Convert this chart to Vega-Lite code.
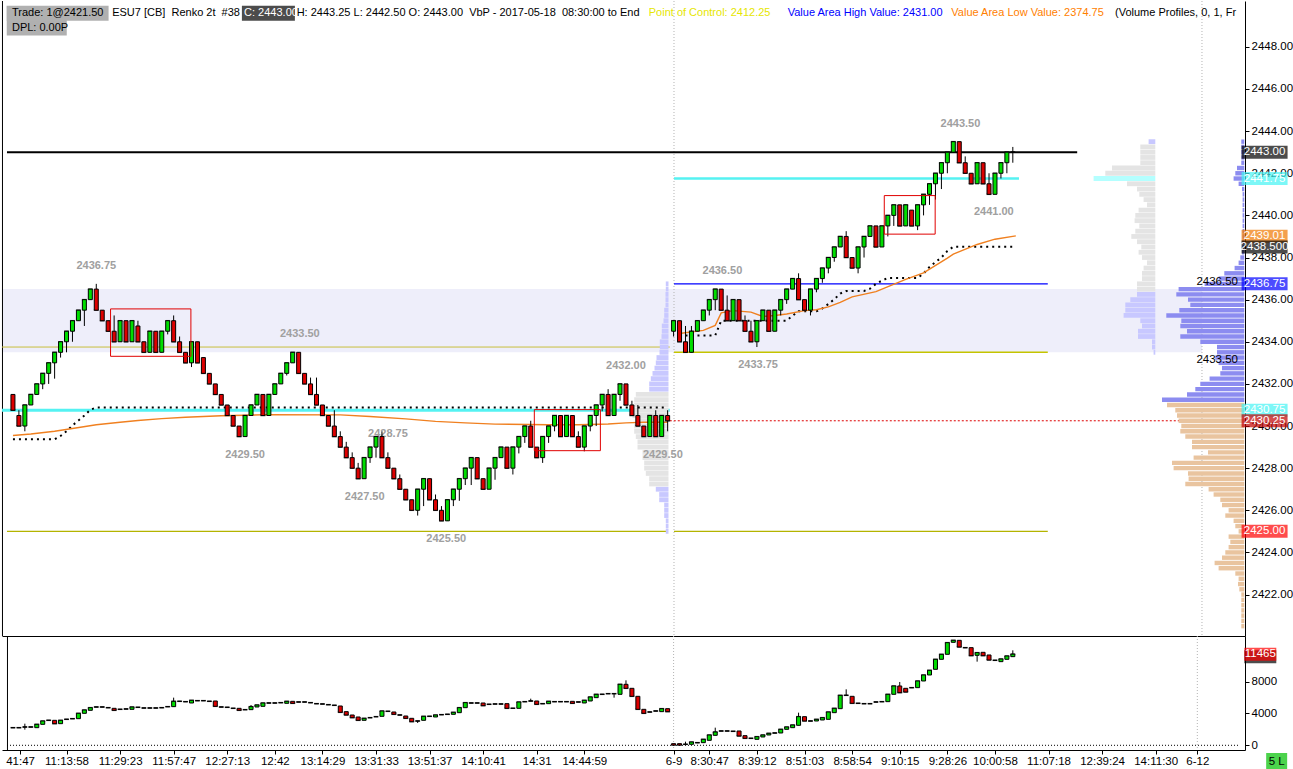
{
"$schema": "https://vega.github.io/schema/vega-lite/v6.json",
"padding": 0,
"spacing": 0,
"bounds": "flush",
"background": "white",
"config": {"view": {"stroke": null}, "font": "Liberation Sans"},
"data": {"values": [{}]},
"datasets": {
"bricks": [
{"k":0,"o":2431.5,"c":2430.75,"h":2431.5,"l":2430.75},{"k":1,"o":2430.5,"c":2430,"h":2430.75,"l":2430},{"k":2,"o":2430,"c":2431,"h":2431,"l":2429.75},{"k":3,"o":2431,"c":2431.5,"h":2431.5,"l":2431},{"k":4,"o":2431.5,"c":2432,"h":2432,"l":2431.5},{"k":5,"o":2432,"c":2432.5,"h":2432.5,"l":2431.75},{"k":6,"o":2432.5,"c":2433,"h":2433,"l":2432},{"k":7,"o":2433,"c":2433.5,"h":2433.5,"l":2432.25},{"k":8,"o":2433.5,"c":2434,"h":2434,"l":2433.25},{"k":9,"o":2434,"c":2434.5,"h":2434.5,"l":2433.5},
{"k":10,"o":2434.5,"c":2435,"h":2435,"l":2434},{"k":11,"o":2435,"c":2435.5,"h":2435.5,"l":2435},{"k":12,"o":2435.5,"c":2436,"h":2436,"l":2434.75},{"k":13,"o":2436,"c":2436.5,"h":2436.5,"l":2436},{"k":14,"o":2436.5,"c":2435.5,"h":2436.75,"l":2435.5},{"k":15,"o":2435.5,"c":2435,"h":2435.5,"l":2435},{"k":16,"o":2435,"c":2434.5,"h":2435,"l":2434.5},{"k":17,"o":2434.5,"c":2434,"h":2435.25,"l":2434},{"k":18,"o":2434,"c":2435,"h":2435,"l":2434},{"k":19,"o":2435,"c":2434,"h":2435,"l":2434},
{"k":20,"o":2434,"c":2435,"h":2435,"l":2434},{"k":21,"o":2434.75,"c":2434,"h":2435,"l":2434},{"k":22,"o":2434,"c":2433.5,"h":2434,"l":2433.5},{"k":23,"o":2433.5,"c":2434.5,"h":2434.5,"l":2433.5},{"k":24,"o":2434.5,"c":2433.5,"h":2434.5,"l":2433.5},{"k":25,"o":2433.5,"c":2434.5,"h":2434.5,"l":2433.5},{"k":26,"o":2434.5,"c":2435,"h":2435,"l":2434.35},{"k":27,"o":2435,"c":2434,"h":2435.25,"l":2434},{"k":28,"o":2434,"c":2433.5,"h":2434.25,"l":2433.5},{"k":29,"o":2433.5,"c":2433,"h":2433.5,"l":2433},
{"k":30,"o":2433,"c":2434,"h":2434,"l":2432.8},{"k":31,"o":2434,"c":2433,"h":2434,"l":2433},{"k":32,"o":2433.25,"c":2432.5,"h":2433.25,"l":2432.5},{"k":33,"o":2432.5,"c":2432,"h":2432.5,"l":2432},{"k":34,"o":2432,"c":2431.5,"h":2432,"l":2431.5},{"k":35,"o":2431.5,"c":2431,"h":2431.5,"l":2431},{"k":36,"o":2431,"c":2430.5,"h":2431,"l":2430.5},{"k":37,"o":2430.5,"c":2430,"h":2430.5,"l":2430},{"k":38,"o":2430,"c":2429.5,"h":2430,"l":2429.5},{"k":39,"o":2429.5,"c":2430.5,"h":2430.5,"l":2429.5},
{"k":40,"o":2430.5,"c":2431,"h":2431,"l":2430.5},{"k":41,"o":2431,"c":2431.5,"h":2431.5,"l":2431},{"k":42,"o":2431.5,"c":2430.5,"h":2431.5,"l":2430.5},{"k":43,"o":2430.5,"c":2431.5,"h":2431.5,"l":2430.5},{"k":44,"o":2431.5,"c":2432,"h":2432,"l":2431.5},{"k":45,"o":2432,"c":2432.5,"h":2432.5,"l":2432},{"k":46,"o":2432.5,"c":2433,"h":2433,"l":2432.4},{"k":47,"o":2433,"c":2433.5,"h":2433.5,"l":2433},{"k":48,"o":2433.5,"c":2432.5,"h":2433.5,"l":2432.5},{"k":49,"o":2432.5,"c":2432,"h":2432.5,"l":2432},
{"k":50,"o":2432,"c":2431.5,"h":2432.3,"l":2431.5},{"k":51,"o":2431.5,"c":2431,"h":2432.3,"l":2431},{"k":52,"o":2431,"c":2430.5,"h":2431,"l":2430.5},{"k":53,"o":2430.5,"c":2430,"h":2430.5,"l":2430},{"k":54,"o":2430,"c":2429.5,"h":2430.75,"l":2429.5},{"k":55,"o":2429.5,"c":2429,"h":2429.75,"l":2429},{"k":56,"o":2429,"c":2428.5,"h":2429.25,"l":2428.5},{"k":57,"o":2428.5,"c":2428,"h":2428.75,"l":2428},{"k":58,"o":2428,"c":2427.5,"h":2428.25,"l":2427.5},{"k":59,"o":2427.5,"c":2428.5,"h":2428.5,"l":2427.5},
{"k":60,"o":2428.5,"c":2429,"h":2429,"l":2428.25},{"k":61,"o":2429,"c":2429.5,"h":2429.5,"l":2428.5},{"k":62,"o":2429.5,"c":2428.5,"h":2429.75,"l":2428.5},{"k":63,"o":2428.5,"c":2428,"h":2428.75,"l":2428},{"k":64,"o":2428,"c":2427.5,"h":2428,"l":2427.5},{"k":65,"o":2427.5,"c":2427,"h":2427.7,"l":2427},{"k":66,"o":2427,"c":2426.5,"h":2427,"l":2426.5},{"k":67,"o":2426.5,"c":2426,"h":2426.5,"l":2426},{"k":68,"o":2426,"c":2427,"h":2427,"l":2425.75},{"k":69,"o":2427,"c":2427.5,"h":2427.5,"l":2426.2},
{"k":70,"o":2427.5,"c":2426.5,"h":2427.5,"l":2426.5},{"k":71,"o":2426.5,"c":2426,"h":2426.75,"l":2426},{"k":72,"o":2426,"c":2425.5,"h":2426.2,"l":2425.5},{"k":73,"o":2425.5,"c":2426.5,"h":2426.5,"l":2425.5},{"k":74,"o":2426.5,"c":2427,"h":2427,"l":2426.2},{"k":75,"o":2427,"c":2427.5,"h":2427.5,"l":2426.45},{"k":76,"o":2427.5,"c":2428,"h":2428,"l":2427.2},{"k":77,"o":2428,"c":2428.5,"h":2428.5,"l":2427.2},{"k":78,"o":2428.5,"c":2427.5,"h":2428.5,"l":2427.5},{"k":79,"o":2427.5,"c":2427,"h":2427.5,"l":2427},
{"k":80,"o":2427,"c":2428,"h":2428,"l":2427},{"k":81,"o":2428,"c":2428.5,"h":2428.5,"l":2427.45},{"k":82,"o":2428.5,"c":2429,"h":2429,"l":2428.5},{"k":83,"o":2429,"c":2428,"h":2429,"l":2428},{"k":84,"o":2428,"c":2429,"h":2429,"l":2427.7},{"k":85,"o":2429,"c":2429.5,"h":2429.5,"l":2428.7},{"k":86,"o":2429.5,"c":2430,"h":2430,"l":2429.2},{"k":87,"o":2430,"c":2429,"h":2430.25,"l":2429},{"k":88,"o":2429,"c":2428.5,"h":2429,"l":2428.5},{"k":89,"o":2428.5,"c":2429.5,"h":2429.5,"l":2428.25},
{"k":90,"o":2429.5,"c":2430,"h":2430,"l":2429.2},{"k":91,"o":2430,"c":2430.5,"h":2430.5,"l":2429.75},{"k":92,"o":2430.5,"c":2429.5,"h":2430.5,"l":2429.5},{"k":93,"o":2429.5,"c":2430.5,"h":2430.5,"l":2429.5},{"k":94,"o":2430.5,"c":2429.5,"h":2430.5,"l":2429.5},{"k":95,"o":2429.5,"c":2429,"h":2429.75,"l":2429},{"k":96,"o":2429,"c":2430,"h":2430,"l":2428.8},{"k":97,"o":2430,"c":2430.5,"h":2430.5,"l":2429.75},{"k":98,"o":2430.5,"c":2431,"h":2431,"l":2430},{"k":99,"o":2431,"c":2431.5,"h":2431.5,"l":2430.7},
{"k":100,"o":2431.5,"c":2430.5,"h":2431.75,"l":2430.5},{"k":101,"o":2430.5,"c":2431.5,"h":2431.5,"l":2430.5},{"k":102,"o":2431.5,"c":2432,"h":2432,"l":2431.2},{"k":103,"o":2432,"c":2431,"h":2432,"l":2431},{"k":104,"o":2431,"c":2430.5,"h":2431.2,"l":2430.5},{"k":105,"o":2430.5,"c":2430,"h":2431,"l":2430},{"k":106,"o":2430,"c":2429.5,"h":2430,"l":2429.5},{"k":107,"o":2429.5,"c":2430.5,"h":2430.5,"l":2429.5},{"k":108,"o":2430.5,"c":2429.5,"h":2430.75,"l":2429.5},{"k":109,"o":2429.5,"c":2430.5,"h":2430.5,"l":2429.5},
{"k":110,"o":2430.5,"c":2430.25,"h":2430.75,"l":2429.75},{"k":111,"o":2434.5,"c":2435,"h":2435,"l":2434.25},{"k":112,"o":2435,"c":2434,"h":2435,"l":2434},{"k":113,"o":2434,"c":2433.5,"h":2434.75,"l":2433.5},{"k":114,"o":2433.5,"c":2434.5,"h":2434.75,"l":2433.5},{"k":115,"o":2434.5,"c":2435,"h":2435,"l":2434.5},{"k":116,"o":2435,"c":2435.5,"h":2435.5,"l":2435},{"k":117,"o":2435.5,"c":2436,"h":2436,"l":2435.25},{"k":118,"o":2436,"c":2436.5,"h":2436.5,"l":2435.5},{"k":119,"o":2436.5,"c":2435.5,"h":2436.5,"l":2435.5},
{"k":120,"o":2435.5,"c":2435,"h":2436.2,"l":2435},{"k":121,"o":2435,"c":2436,"h":2436,"l":2435},{"k":122,"o":2436,"c":2435,"h":2436,"l":2435},{"k":123,"o":2435,"c":2434.5,"h":2435.25,"l":2434.5},{"k":124,"o":2434.5,"c":2434,"h":2435,"l":2434},{"k":125,"o":2434,"c":2435,"h":2435,"l":2433.75},{"k":126,"o":2435,"c":2435.5,"h":2435.5,"l":2435},{"k":127,"o":2435.5,"c":2434.5,"h":2435.5,"l":2434.5},{"k":128,"o":2434.5,"c":2435.5,"h":2435.5,"l":2434.5},{"k":129,"o":2435.5,"c":2436,"h":2436,"l":2435.25},
{"k":130,"o":2436,"c":2436.5,"h":2436.5,"l":2435.8},{"k":131,"o":2436.5,"c":2437,"h":2437,"l":2436.5},{"k":132,"o":2437,"c":2436,"h":2437.25,"l":2436},{"k":133,"o":2436,"c":2435.5,"h":2436,"l":2435.5},{"k":134,"o":2435.5,"c":2436.5,"h":2436.5,"l":2435.25},{"k":135,"o":2436.5,"c":2437,"h":2437,"l":2436.35},{"k":136,"o":2437,"c":2437.5,"h":2437.5,"l":2436.8},{"k":137,"o":2437.5,"c":2438,"h":2438,"l":2437.25},{"k":138,"o":2438,"c":2438.5,"h":2438.5,"l":2437.8},{"k":139,"o":2438.5,"c":2439,"h":2439,"l":2438.5},
{"k":140,"o":2439,"c":2438,"h":2439.25,"l":2438},{"k":141,"o":2438,"c":2437.5,"h":2438,"l":2437.5},{"k":142,"o":2437.5,"c":2438.5,"h":2438.5,"l":2437.25},{"k":143,"o":2438.5,"c":2439,"h":2439,"l":2438},{"k":144,"o":2439,"c":2439.5,"h":2439.5,"l":2439},{"k":145,"o":2439.5,"c":2438.5,"h":2439.5,"l":2438.5},{"k":146,"o":2438.5,"c":2439.5,"h":2439.5,"l":2438.5},{"k":147,"o":2439.5,"c":2440,"h":2440,"l":2439},{"k":148,"o":2440,"c":2440.5,"h":2440.5,"l":2439.5},{"k":149,"o":2440.5,"c":2439.5,"h":2440.5,"l":2439.5},
{"k":150,"o":2439.5,"c":2440.5,"h":2440.5,"l":2439.5},{"k":151,"o":2440.25,"c":2439.5,"h":2440.25,"l":2439.5},{"k":152,"o":2439.5,"c":2440.5,"h":2440.5,"l":2439.3},{"k":153,"o":2440.5,"c":2441,"h":2441,"l":2440},{"k":154,"o":2441,"c":2441.5,"h":2441.5,"l":2440.5},{"k":155,"o":2441.5,"c":2442,"h":2442,"l":2440.75},{"k":156,"o":2442,"c":2442.5,"h":2442.5,"l":2441.25},{"k":157,"o":2442.5,"c":2443,"h":2443,"l":2442},{"k":158,"o":2443,"c":2443.5,"h":2443.5,"l":2443},{"k":159,"o":2443.5,"c":2442.5,"h":2443.5,"l":2442.5},
{"k":160,"o":2442.5,"c":2442,"h":2442.8,"l":2442},{"k":161,"o":2442,"c":2441.5,"h":2442,"l":2441.5},{"k":162,"o":2441.5,"c":2442.5,"h":2442.5,"l":2441.5},{"k":163,"o":2442.5,"c":2441.5,"h":2442.5,"l":2441.5},{"k":164,"o":2441.5,"c":2441,"h":2442,"l":2441},{"k":165,"o":2441,"c":2442,"h":2442,"l":2441},{"k":166,"o":2442,"c":2442.5,"h":2442.5,"l":2441.75},{"k":167,"o":2442.5,"c":2443,"h":2443,"l":2442},{"k":168,"o":2443,"c":2443,"h":2443.25,"l":2442.5}
],
"delta": [
{"k":0,"o":2219,"c":2219},{"k":1,"o":2219,"c":2219},{"k":2,"o":2303,"c":2303,"h":2722,"l":1968},{"k":3,"o":2303,"c":2303},{"k":4,"o":2219,"c":2638},{"k":5,"o":2638,"c":3058},{"k":6,"o":3142,"c":3142},{"k":7,"o":3142,"c":2722},{"k":8,"o":2722,"c":3142},{"k":9,"o":3268,"c":3268},
{"k":10,"o":3351,"c":3351},{"k":11,"o":3351,"c":4022},{"k":12,"o":4022,"c":4442},{"k":13,"o":4400,"c":4735},{"k":14,"o":4819,"c":4819},{"k":15,"o":4819,"c":4819},{"k":16,"o":4735,"c":4735},{"k":17,"o":4651,"c":4400},{"k":18,"o":4526,"c":4526},{"k":19,"o":4568,"c":4568},
{"k":20,"o":4526,"c":4819},{"k":21,"o":4777,"c":4777},{"k":22,"o":4693,"c":4693},{"k":23,"o":4693,"c":4693},{"k":24,"o":4693,"c":4693},{"k":25,"o":4735,"c":4735},{"k":26,"o":4861,"c":4861},{"k":27,"o":4861,"c":5532,"h":5993,"l":4861},{"k":28,"o":5532,"c":5532},{"k":29,"o":5490,"c":5490},
{"k":30,"o":5322,"c":5658},{"k":31,"o":5616,"c":5616},{"k":32,"o":5616,"c":5616},{"k":33,"o":5532,"c":5532},{"k":34,"o":5574,"c":4903},{"k":35,"o":4819,"c":4819},{"k":36,"o":4777,"c":4777},{"k":37,"o":4651,"c":4651},{"k":38,"o":4651,"c":4400},{"k":39,"o":4484,"c":4484},
{"k":40,"o":4484,"c":4861,"h":5071,"l":4484},{"k":41,"o":4819,"c":5071},{"k":42,"o":4903,"c":5322},{"k":43,"o":5322,"c":5322},{"k":44,"o":5322,"c":5322},{"k":45,"o":5364,"c":5364},{"k":46,"o":5280,"c":5532},{"k":47,"o":5532,"c":5280},{"k":48,"o":5448,"c":5448},{"k":49,"o":5448,"c":5448},
{"k":50,"o":5364,"c":5364},{"k":51,"o":5238,"c":5238},{"k":52,"o":5196,"c":5196},{"k":53,"o":5112,"c":5112},{"k":54,"o":5029,"c":5029},{"k":55,"o":4945,"c":4148},{"k":56,"o":4232,"c":3813},{"k":57,"o":3813,"c":3477},{"k":58,"o":3561,"c":3142},{"k":59,"o":3142,"c":3393},
{"k":60,"o":3477,"c":3477},{"k":61,"o":3603,"c":3603},{"k":62,"o":3645,"c":4316},{"k":63,"o":4274,"c":4274},{"k":64,"o":4190,"c":3896},{"k":65,"o":3813,"c":3813},{"k":66,"o":3687,"c":3393},{"k":67,"o":3393,"c":2974},{"k":68,"o":3058,"c":3058,"h":3058,"l":2806},{"k":69,"o":3142,"c":3645},
{"k":70,"o":3645,"c":3645},{"k":71,"o":3561,"c":3813},{"k":72,"o":3855,"c":3855},{"k":73,"o":3896,"c":3896},{"k":74,"o":3896,"c":4148},{"k":75,"o":4106,"c":4735},{"k":76,"o":4735,"c":5364},{"k":77,"o":5322,"c":5322},{"k":78,"o":5322,"c":5322},{"k":79,"o":5322,"c":4987},
{"k":80,"o":5154,"c":5154},{"k":81,"o":5196,"c":5196},{"k":82,"o":5196,"c":5196},{"k":83,"o":5238,"c":4651},{"k":84,"o":4651,"c":4651},{"k":85,"o":4651,"c":5448},{"k":86,"o":5490,"c":5490},{"k":87,"o":5574,"c":5574,"h":5867,"l":5574},{"k":88,"o":5574,"c":5154},{"k":89,"o":5238,"c":5238},
{"k":90,"o":5238,"c":5532},{"k":91,"o":5490,"c":5490},{"k":92,"o":5490,"c":5490},{"k":93,"o":5490,"c":5490},{"k":94,"o":5532,"c":5280},{"k":95,"o":5448,"c":5448},{"k":96,"o":5322,"c":5658},{"k":97,"o":5574,"c":6077},{"k":98,"o":5993,"c":6412},{"k":99,"o":6412,"c":6412},
{"k":100,"o":6496,"c":6496},{"k":101,"o":6496,"c":6496,"h":6496,"l":5993},{"k":102,"o":6412,"c":7670},{"k":103,"o":7670,"c":7167,"h":8173,"l":7167},{"k":104,"o":7167,"c":6161},{"k":105,"o":6161,"c":4526},{"k":106,"o":4526,"c":4022},{"k":107,"o":4190,"c":4190},{"k":108,"o":4316,"c":4316},{"k":109,"o":4232,"c":4609},
{"k":110,"o":4609,"c":4232},{"k":111,"o":207,"c":39},{"k":112,"o":207,"c":39},{"k":113,"o":123,"c":123,"h":458,"l":123},{"k":114,"o":123,"c":416},{"k":115,"o":332,"c":332},{"k":116,"o":332,"c":752},{"k":117,"o":626,"c":1297},{"k":118,"o":1255,"c":1674,"h":2219,"l":1255},{"k":119,"o":1800,"c":1800},
{"k":120,"o":1800,"c":1800},{"k":121,"o":1758,"c":1758},{"k":122,"o":1800,"c":1171},{"k":123,"o":1213,"c":878},{"k":124,"o":878,"c":878},{"k":125,"o":752,"c":1087},{"k":126,"o":1045,"c":1297},{"k":127,"o":1297,"c":1507},{"k":128,"o":1548,"c":1548},{"k":129,"o":1548,"c":2010},
{"k":130,"o":2010,"c":2303},{"k":131,"o":2219,"c":2555},{"k":132,"o":2513,"c":3603,"h":4106,"l":2513},{"k":133,"o":3603,"c":3058},{"k":134,"o":3058,"c":3058},{"k":135,"o":3058,"c":3268},{"k":136,"o":3184,"c":3477},{"k":137,"o":3268,"c":4190},{"k":138,"o":4106,"c":4651},{"k":139,"o":4609,"c":6286},
{"k":140,"o":6286,"c":6286,"h":7041,"l":6286},{"k":141,"o":6161,"c":5280},{"k":142,"o":5280,"c":5280},{"k":143,"o":5238,"c":5238},{"k":144,"o":5238,"c":5238},{"k":145,"o":5448,"c":5448},{"k":146,"o":5490,"c":5490},{"k":147,"o":5490,"c":6412},{"k":148,"o":6412,"c":7461},{"k":149,"o":7461,"c":6622,"h":7964,"l":6622},
{"k":150,"o":7167,"c":6706},{"k":151,"o":7251,"c":7251},{"k":152,"o":7251,"c":8089},{"k":153,"o":8089,"c":8844},{"k":154,"o":8844,"c":9431},{"k":155,"o":9557,"c":10815},{"k":156,"o":10815,"c":11444},{"k":157,"o":11444,"c":12911},{"k":158,"o":12953,"c":13205},{"k":159,"o":13205,"c":12366},
{"k":160,"o":12282,"c":12282},{"k":161,"o":12282,"c":11276},{"k":162,"o":11318,"c":11653,"h":11653,"l":10521},{"k":163,"o":11695,"c":11276},{"k":164,"o":11360,"c":10731},{"k":165,"o":10689,"c":10689},{"k":166,"o":10521,"c":10857},{"k":167,"o":10815,"c":11234},{"k":168,"o":11150,"c":11465,"h":11947,"l":11150}
],
"stp": [
{"s":1,"k":0,"p":2429.37},{"s":1,"k":7,"p":2429.37},{"s":1,"k":8,"p":2429.53},{"s":1,"k":9,"p":2429.75},{"s":1,"k":10,"p":2430.03},{"s":1,"k":11,"p":2430.26},{"s":1,"k":12,"p":2430.5},{"s":1,"k":13,"p":2430.77},{"s":1,"k":14,"p":2430.88},{"s":1,"k":110,"p":2430.88},
{"s":2,"k":113,"p":2434.3},{"s":2,"k":118,"p":2434.3},{"s":2,"k":119,"p":2435},{"s":2,"k":130,"p":2435},{"s":2,"k":131,"p":2435.24},{"s":2,"k":132,"p":2435.45},{"s":2,"k":135,"p":2435.45},{"s":2,"k":136,"p":2435.58},{"s":2,"k":137,"p":2435.79},{"s":2,"k":138,"p":2436.02},{"s":2,"k":139,"p":2436.29},{"s":2,"k":140,"p":2436.41},{"s":2,"k":143,"p":2436.41},{"s":2,"k":144,"p":2436.52},{"s":2,"k":145,"p":2436.75},{"s":2,"k":146,"p":2436.9},{"s":2,"k":147,"p":2437.03},{"s":2,"k":152,"p":2437.03},{"s":2,"k":153,"p":2437.24},{"s":2,"k":154,"p":2437.55},{"s":2,"k":155,"p":2437.78},{"s":2,"k":156,"p":2438},{"s":2,"k":157,"p":2438.31},{"s":2,"k":158,"p":2438.51},{"s":2,"k":168,"p":2438.51}
],
"vw": [
{"s":1,"k":0,"p":2429.55},{"s":1,"k":3,"p":2429.62},{"s":1,"k":7,"p":2429.75},{"s":1,"k":10,"p":2429.88},{"s":1,"k":14,"p":2430.06},{"s":1,"k":18,"p":2430.18},{"s":1,"k":21,"p":2430.26},{"s":1,"k":25,"p":2430.35},{"s":1,"k":29,"p":2430.42},{"s":1,"k":35,"p":2430.49},{"s":1,"k":43,"p":2430.54},{"s":1,"k":55,"p":2430.53},{"s":1,"k":60,"p":2430.45},{"s":1,"k":66,"p":2430.34},{"s":1,"k":71,"p":2430.22},{"s":1,"k":76,"p":2430.15},{"s":1,"k":81,"p":2430.09},{"s":1,"k":90,"p":2430.06},{"s":1,"k":95,"p":2430.06},{"s":1,"k":100,"p":2430.1},{"s":1,"k":103,"p":2430.15},{"s":1,"k":106,"p":2430.18},{"s":1,"k":110,"p":2430.18},
{"s":2,"k":112,"p":2434.39},{"s":2,"k":116,"p":2434.54},{"s":2,"k":118,"p":2434.78},{"s":2,"k":119,"p":2435.37},{"s":2,"k":121,"p":2435.48},{"s":2,"k":124,"p":2435.41},{"s":2,"k":126,"p":2435.2},{"s":2,"k":128,"p":2435.25},{"s":2,"k":130,"p":2435.32},{"s":2,"k":133,"p":2435.48},{"s":2,"k":135,"p":2435.52},{"s":2,"k":137,"p":2435.66},{"s":2,"k":139,"p":2435.87},{"s":2,"k":141,"p":2436.13},{"s":2,"k":145,"p":2436.38},{"s":2,"k":150,"p":2436.96},{"s":2,"k":153,"p":2437.27},{"s":2,"k":157,"p":2437.97},{"s":2,"k":158,"p":2438.16},{"s":2,"k":162,"p":2438.62},{"s":2,"k":165,"p":2438.87},{"s":2,"k":168.5,"p":2439.03}
],
"pL": [
{"p":2436.75,"v":2.7,"g":"L"},{"p":2436.5,"v":2.7,"g":"L"},{"p":2436.25,"v":3,"g":"L"},{"p":2436,"v":3,"g":"L"},{"p":2435.75,"v":3,"g":"L"},{"p":2435.5,"v":4.3,"g":"L"},{"p":2435.25,"v":4.3,"g":"L"},{"p":2435,"v":5,"g":"L"},{"p":2434.75,"v":6.7,"g":"L"},{"p":2434.5,"v":6.7,"g":"L"},{"p":2434.25,"v":7,"g":"L"},{"p":2434,"v":8.7,"g":"L"},{"p":2433.75,"v":8.7,"g":"L"},{"p":2433.5,"v":9,"g":"L"},{"p":2433.25,"v":12,"g":"L"},{"p":2433,"v":12.7,"g":"L"},{"p":2432.75,"v":14,"g":"L"},{"p":2432.5,"v":16,"g":"L"},{"p":2432.25,"v":17.7,"g":"L"},{"p":2432,"v":19.3,"g":"L"},{"p":2431.75,"v":19.3,"g":"L"},
{"p":2431.5,"v":32.7,"g":"G"},{"p":2431.25,"v":34.3,"g":"G"},{"p":2431,"v":34.3,"g":"G"},{"p":2430.75,"v":36,"g":"G"},{"p":2430.5,"v":36,"g":"G"},{"p":2430.25,"v":32.7,"g":"G"},{"p":2430,"v":34.3,"g":"G"},{"p":2429.75,"v":34.3,"g":"G"},{"p":2429.5,"v":32.7,"g":"G"},{"p":2429.25,"v":31,"g":"G"},{"p":2429,"v":31,"g":"G"},{"p":2428.75,"v":26,"g":"G"},{"p":2428.5,"v":26,"g":"G"},{"p":2428.25,"v":24.3,"g":"G"},{"p":2428,"v":24.3,"g":"G"},{"p":2427.75,"v":22.7,"g":"G"},{"p":2427.5,"v":19.3,"g":"G"},{"p":2427.25,"v":19.3,"g":"G"},
{"p":2427,"v":12.7,"g":"L"},{"p":2426.75,"v":9.3,"g":"L"},{"p":2426.5,"v":9.3,"g":"L"},{"p":2426.25,"v":4.3,"g":"L"},{"p":2426,"v":4.3,"g":"L"},{"p":2425.75,"v":4.3,"g":"L"},{"p":2425.5,"v":2.7,"g":"L"},{"p":2425.25,"v":2.7,"g":"L"},{"p":2425,"v":2.7,"g":"L"}
],
"pM": [
{"p":2443.5,"v":6.7,"g":"L"},{"p":2443.25,"v":15,"g":"G"},{"p":2443,"v":15,"g":"G"},{"p":2442.75,"v":15,"g":"G"},{"p":2442.5,"v":15,"g":"G"},{"p":2442.25,"v":43.3,"g":"G"},{"p":2442,"v":50,"g":"G"},{"p":2441.75,"v":61.7,"g":"C"},{"p":2441.5,"v":28.3,"g":"G"},{"p":2441.25,"v":18.3,"g":"G"},{"p":2441,"v":16,"g":"G"},{"p":2440.75,"v":11.7,"g":"G"},{"p":2440.5,"v":8.3,"g":"G"},{"p":2440.25,"v":16.7,"g":"G"},{"p":2440,"v":20,"g":"G"},{"p":2439.75,"v":20.7,"g":"G"},{"p":2439.5,"v":16,"g":"G"},{"p":2439.25,"v":20,"g":"G"},{"p":2439,"v":24,"g":"G"},{"p":2438.75,"v":18.3,"g":"G"},{"p":2438.5,"v":14,"g":"G"},{"p":2438.25,"v":16.7,"g":"G"},{"p":2438,"v":13.3,"g":"G"},{"p":2437.75,"v":8.3,"g":"G"},{"p":2437.5,"v":11.7,"g":"G"},{"p":2437.25,"v":13.3,"g":"G"},{"p":2437,"v":13.3,"g":"G"},{"p":2436.75,"v":18.3,"g":"G"},{"p":2436.5,"v":18.3,"g":"G"},
{"p":2436.25,"v":18.3,"g":"L"},{"p":2436,"v":25,"g":"L"},{"p":2435.75,"v":30,"g":"L"},{"p":2435.5,"v":30,"g":"L"},{"p":2435.25,"v":31.7,"g":"L"},{"p":2435,"v":15,"g":"L"},{"p":2434.75,"v":13.3,"g":"L"},{"p":2434.5,"v":17.3,"g":"L"},{"p":2434.25,"v":17.3,"g":"L"},{"p":2434,"v":3.3,"g":"L"},{"p":2433.75,"v":3.3,"g":"L"},{"p":2433.5,"v":1.7,"g":"L"}
],
"pR": [
{"p":2443.5,"v":3,"g":"B"},{"p":2443.25,"v":3,"g":"B"},{"p":2443,"v":3,"g":"B"},{"p":2442.75,"v":3,"g":"B"},{"p":2442.5,"v":3,"g":"B"},{"p":2442.25,"v":7.3,"g":"B"},{"p":2442,"v":9,"g":"B"},{"p":2441.75,"v":10.7,"g":"B"},{"p":2441.5,"v":5.7,"g":"B"},{"p":2441.25,"v":2.3,"g":"B"},{"p":2441,"v":1.7,"g":"B"},{"p":2440.75,"v":1.7,"g":"B"},{"p":2440.5,"v":1.7,"g":"B"},{"p":2440.25,"v":1.7,"g":"B"},{"p":2440,"v":1.7,"g":"B"},{"p":2439.75,"v":1.7,"g":"B"},{"p":2439.5,"v":1.7,"g":"B"},{"p":2439.25,"v":1.7,"g":"B"},{"p":2439,"v":1.7,"g":"B"},{"p":2438.75,"v":1.7,"g":"B"},{"p":2438.5,"v":1.7,"g":"B"},{"p":2438.25,"v":2.3,"g":"B"},{"p":2438,"v":4,"g":"B"},{"p":2437.75,"v":5.7,"g":"B"},{"p":2437.5,"v":9.7,"g":"B"},{"p":2437.25,"v":20,"g":"B"},{"p":2437,"v":25.7,"g":"B"},{"p":2436.75,"v":39.7,"g":"B"},{"p":2436.5,"v":65.7,"g":"B"},{"p":2436.25,"v":68,"g":"B"},{"p":2436,"v":56.3,"g":"B"},{"p":2435.75,"v":54,"g":"B"},{"p":2435.5,"v":65,"g":"B"},{"p":2435.25,"v":78,"g":"B"},{"p":2435,"v":63,"g":"B"},{"p":2434.75,"v":64,"g":"B"},{"p":2434.5,"v":57.3,"g":"B"},{"p":2434.25,"v":64,"g":"B"},{"p":2434,"v":44,"g":"B"},{"p":2433.75,"v":27.3,"g":"B"},{"p":2433.5,"v":27.3,"g":"B"},{"p":2433.25,"v":29,"g":"B"},{"p":2433,"v":25.7,"g":"B"},{"p":2432.75,"v":22.3,"g":"B"},{"p":2432.5,"v":24,"g":"B"},{"p":2432.25,"v":34.7,"g":"B"},{"p":2432,"v":44,"g":"B"},{"p":2431.75,"v":49,"g":"B"},{"p":2431.5,"v":57.3,"g":"B"},{"p":2431.25,"v":82.3,"g":"B"},
{"p":2431,"v":77.3,"g":"T"},{"p":2430.75,"v":69,"g":"T"},{"p":2430.5,"v":67.3,"g":"T"},{"p":2430.25,"v":65.7,"g":"T"},{"p":2430,"v":63,"g":"T"},{"p":2429.75,"v":64,"g":"T"},{"p":2429.5,"v":59,"g":"T"},{"p":2429.25,"v":52.3,"g":"T"},{"p":2429,"v":52.3,"g":"T"},{"p":2428.75,"v":36.3,"g":"T"},{"p":2428.5,"v":50.7,"g":"T"},{"p":2428.25,"v":72.3,"g":"T"},{"p":2428,"v":70.7,"g":"T"},{"p":2427.75,"v":56.3,"g":"T"},{"p":2427.5,"v":55.7,"g":"T"},{"p":2427.25,"v":59,"g":"T"},{"p":2427,"v":35.7,"g":"T"},{"p":2426.75,"v":30.7,"g":"T"},{"p":2426.5,"v":24,"g":"T"},{"p":2426.25,"v":22.3,"g":"T"},{"p":2426,"v":15.7,"g":"T"},{"p":2425.75,"v":19,"g":"T"},{"p":2425.5,"v":10.7,"g":"T"},{"p":2425.25,"v":9,"g":"T"},{"p":2425,"v":5.7,"g":"T"},{"p":2424.75,"v":15.7,"g":"T"},{"p":2424.5,"v":14,"g":"T"},{"p":2424.25,"v":15.7,"g":"T"},{"p":2424,"v":19,"g":"T"},{"p":2423.75,"v":22.3,"g":"T"},{"p":2423.5,"v":29.7,"g":"T"},{"p":2423.25,"v":25.7,"g":"T"},{"p":2423,"v":9,"g":"T"},{"p":2422.75,"v":5.7,"g":"T"},{"p":2422.5,"v":6.3,"g":"T"},{"p":2422.25,"v":5,"g":"T"},{"p":2422,"v":3,"g":"T"},{"p":2421.75,"v":3,"g":"T"},{"p":2421.5,"v":3,"g":"T"},{"p":2421.25,"v":3,"g":"T"},{"p":2421,"v":3,"g":"T"},{"p":2420.75,"v":3,"g":"T"},{"p":2420.5,"v":3,"g":"T"}
],
"boxes": [
{"k1":16.4,"k2":29.9,"p1":2435.56,"p2":2433.31},{"k1":87.6,"k2":98.7,"p1":2430.78,"p2":2428.83},{"k1":146.4,"k2":154.95,"p1":2440.94,"p2":2439.11}
],
"hiLab": [
{"k":14,"p":2436.75},{"k":48.2,"p":2433.5},{"k":63,"p":2428.75},{"k":103,"p":2432},{"k":119.2,"p":2436.5},{"k":159.2,"p":2443.5}
],
"loLab": [
{"k":39,"p":2429.5},{"k":59.1,"p":2427.5},{"k":72.8,"p":2425.5},{"k":109.2,"p":2429.5},{"k":125.2,"p":2433.75},{"k":164.8,"p":2441}
],
"tags": [
{"p":2443,"t":"2443.00","g":"k"},{"p":2441.75,"t":"2441.75","g":"c"},{"p":2439.01,"t":"2439.01","g":"o"},{"p":2438.5,"t":"2438.500","g":"k"},{"p":2436.75,"t":"2436.75","g":"b"},{"p":2430.75,"t":"2430.75","g":"c"},{"p":2430.25,"t":"2430.25","g":"r"},{"p":2425,"t":"2425.00","g":"R"}
]
},
"vconcat": [
{
"width": 1243,
"height": 635,
"resolve": {"scale": {"x": "independent"}},
"layer": [
{
"layer": [
{"mark": {"type": "rect", "color": "#eeeefa"},
 "encoding": {
  "x": {"datum": -1, "type": "quantitative", "scale": {"domain": [-1, 206.17], "nice": false, "zero": false}, "axis": {"orient": "bottom", "labels": false, "ticks": false, "title": null, "grid": false, "domainColor": "#000000", "zindex": 0}},
  "x2": {"datum": 199},
  "y": {"datum": 2433.5, "type": "quantitative", "scale": {"domain": [2420.27, 2449.94], "nice": false, "zero": false},
        "axis": {"orient": "right", "values": [2422,2424,2426,2428,2430,2432,2434,2436,2438,2440,2442,2444,2446,2448], "format": ".2f", "title": null, "grid": false, "domainColor": "#000000", "tickColor": "#000000", "tickSize": 4, "labelColor": "#000000", "labelFontSize": 11.5, "labelPadding": 2, "labelFont": "Liberation Sans", "zindex": 0}},
  "y2": {"datum": 2436.5}}},
{"mark": {"type": "rule", "color": "#000000", "strokeWidth": 1},
 "encoding": {"x": {"datum": -0.92, "type": "quantitative"}}},
{"mark": {"type": "rule", "color": "#b4b4b4", "strokeDash": [1, 2]},
 "encoding": {"x": {"datum": 111, "type": "quantitative"}}},
{"mark": {"type": "rule", "color": "#b4b4b4", "strokeDash": [1, 2]},
 "encoding": {"x": {"datum": 199, "type": "quantitative"}}},
{"mark": {"type": "rule", "color": "#c8be3c", "strokeWidth": 1},
 "encoding": {"x": {"datum": -1, "type": "quantitative"}, "x2": {"datum": 110.3}, "y": {"datum": 2433.75, "type": "quantitative"}}},
{"mark": {"type": "rule", "color": "#b4b400", "strokeWidth": 1.2},
 "encoding": {"x": {"datum": -0.17, "type": "quantitative"}, "x2": {"datum": 110}, "y": {"datum": 2425, "type": "quantitative"}}},
{"mark": {"type": "rule", "color": "#b4b400", "strokeWidth": 1.2},
 "encoding": {"x": {"datum": 111, "type": "quantitative"}, "x2": {"datum": 173.3}, "y": {"datum": 2425, "type": "quantitative"}}},
{"mark": {"type": "rule", "color": "#c4c400", "strokeWidth": 1.5},
 "encoding": {"x": {"datum": 111, "type": "quantitative"}, "x2": {"datum": 173.3}, "y": {"datum": 2433.5, "type": "quantitative"}}},
{"mark": {"type": "rule", "color": "#0000ff", "strokeWidth": 1.2},
 "encoding": {"x": {"datum": 111, "type": "quantitative"}, "x2": {"datum": 173.3}, "y": {"datum": 2436.75, "type": "quantitative"}}},
{"mark": {"type": "rule", "color": "#dd0000", "strokeWidth": 1, "strokeDash": [2, 2]},
 "encoding": {"x": {"datum": 110.3, "type": "quantitative"}, "x2": {"datum": 206.17}, "y": {"datum": 2430.25, "type": "quantitative"}}},
{"mark": {"type": "rule", "color": "#55f2f2", "strokeWidth": 3},
 "encoding": {"x": {"datum": -1, "type": "quantitative"}, "x2": {"datum": 110.3}, "y": {"datum": 2430.75, "type": "quantitative"}}},
{"mark": {"type": "rule", "color": "#55f2f2", "strokeWidth": 2.5},
 "encoding": {"x": {"datum": 111, "type": "quantitative"}, "x2": {"datum": 168.5}, "y": {"datum": 2441.75, "type": "quantitative"}}},
{"mark": {"type": "rule", "color": "#000000", "strokeWidth": 2},
 "encoding": {"x": {"datum": -0.17, "type": "quantitative"}, "x2": {"datum": 178.2}, "y": {"datum": 2443, "type": "quantitative"}}}
]
},
{"data": {"name": "pL"}, "mark": {"type": "bar", "size": 4.8},
 "encoding": {
  "y": {"field": "p", "type": "quantitative"},
  "x": {"field": "v", "type": "quantitative", "scale": {"domain": [0, 100], "range": [666.5, 566.5], "nice": false, "zero": false}, "axis": null},
  "x2": {"datum": 0},
  "color": {"field": "g", "type": "nominal", "legend": null, "scale": {"domain": ["L","G","C","B","T","k","c","o","b","r","R"], "range": ["#c8c8ff","#e4e4e4","#b4ffff","#8c8cf0","#e9c49f","#000000","#44f4f4","#f07800","#0000ff","#c00000","#ff0000"]}}}},
{"data": {"name": "pM"}, "mark": {"type": "bar", "size": 4.8},
 "encoding": {
  "y": {"field": "p", "type": "quantitative"},
  "x": {"field": "v", "type": "quantitative", "scale": {"domain": [0, 100], "range": [1153.3, 1053.3], "nice": false, "zero": false}, "axis": null},
  "x2": {"datum": 0},
  "color": {"field": "g", "type": "nominal", "legend": null, "scale": {"domain": ["L","G","C","B","T","k","c","o","b","r","R"], "range": ["#c8c8ff","#e4e4e4","#b4ffff","#8c8cf0","#e9c49f","#000000","#44f4f4","#f07800","#0000ff","#c00000","#ff0000"]}}}},
{"data": {"name": "pR"}, "mark": {"type": "bar", "size": 4.4},
 "encoding": {
  "y": {"field": "p", "type": "quantitative"},
  "x": {"field": "v", "type": "quantitative", "scale": {"domain": [0, 100], "range": [1242.3, 1142.3], "nice": false, "zero": false}, "axis": null},
  "x2": {"datum": 0},
  "color": {"field": "g", "type": "nominal", "legend": null, "scale": {"domain": ["L","G","C","B","T","k","c","o","b","r","R"], "range": ["#c8c8ff","#e4e4e4","#b4ffff","#8c8cf0","#e9c49f","#000000","#44f4f4","#f07800","#0000ff","#c00000","#ff0000"]}}}},
{
"layer": [
{"data": {"name": "stp"}, "mark": {"type": "line", "color": "#000000", "strokeWidth": 2, "strokeDash": [2, 4]},
 "encoding": {
  "x": {"field": "k", "type": "quantitative", "scale": {"domain": [-1, 206.17], "nice": false, "zero": false}, "axis": null},
  "y": {"field": "p", "type": "quantitative"},
  "detail": {"field": "s"}}},
{"data": {"name": "vw"}, "mark": {"type": "line", "color": "#f08020", "strokeWidth": 1.4},
 "encoding": {
  "x": {"field": "k", "type": "quantitative", "axis": null},
  "y": {"field": "p", "type": "quantitative"},
  "detail": {"field": "s"}}},
{"data": {"name": "hiLab"}, "mark": {"type": "text", "color": "#a0a0a0", "fontWeight": "bold", "fontSize": 11, "dy": -18, "baseline": "middle"},
 "encoding": {
  "x": {"field": "k", "type": "quantitative", "axis": null},
  "y": {"field": "p", "type": "quantitative"},
  "text": {"field": "p", "type": "quantitative", "format": ".2f"}}},
{"data": {"name": "loLab"}, "mark": {"type": "text", "color": "#a0a0a0", "fontWeight": "bold", "fontSize": 11, "dy": 18, "baseline": "middle"},
 "encoding": {
  "x": {"field": "k", "type": "quantitative", "axis": null},
  "y": {"field": "p", "type": "quantitative"},
  "text": {"field": "p", "type": "quantitative", "format": ".2f"}}},
{"data": {"name": "bricks"}, "mark": {"type": "rule", "color": "#000000", "strokeWidth": 1},
 "encoding": {
  "x": {"field": "k", "type": "quantitative", "axis": null},
  "y": {"field": "l", "type": "quantitative"},
  "y2": {"field": "h"}}},
{"data": {"name": "bricks"}, "mark": {"type": "tick", "orient": "horizontal", "size": 5, "thickness": 1.5, "color": "#000000"},
 "encoding": {
  "x": {"field": "k", "type": "quantitative", "axis": null},
  "y": {"field": "c", "type": "quantitative"}}},
{"data": {"name": "bricks"}, "mark": {"type": "bar", "size": 4, "stroke": "#000000", "strokeWidth": 1},
 "encoding": {
  "x": {"field": "k", "type": "quantitative", "axis": null},
  "y": {"field": "o", "type": "quantitative"},
  "y2": {"field": "c"},
  "fill": {"condition": {"test": "datum.c > datum.o", "value": "#00dd00"}, "value": "#dd0000"}}},
{"data": {"name": "boxes"}, "mark": {"type": "rect", "filled": false, "color": "#e00000", "strokeWidth": 1},
 "encoding": {
  "x": {"field": "k1", "type": "quantitative", "axis": null},
  "x2": {"field": "k2"},
  "y": {"field": "p1", "type": "quantitative"},
  "y2": {"field": "p2"}}},
{"mark": {"type": "text", "color": "#000000", "fontSize": 11.5, "align": "right", "baseline": "middle", "dy": -7},
 "encoding": {"x": {"datum": 205.83, "type": "quantitative", "axis": null}, "y": {"datum": 2436.5, "type": "quantitative"}, "text": {"value": "2436.50"}}},
{"mark": {"type": "text", "color": "#000000", "fontSize": 11.5, "align": "right", "baseline": "middle", "dy": 8},
 "encoding": {"x": {"datum": 205.83, "type": "quantitative", "axis": null}, "y": {"datum": 2433.5, "type": "quantitative"}, "text": {"value": "2433.50"}}},
{"mark": {"type": "tick", "orient": "horizontal", "size": 102, "thickness": 15, "color": "#8f8f8f"},
 "encoding": {"x": {"datum": 7.5, "type": "quantitative", "axis": null}, "y": {"datum": 2449.59, "type": "quantitative"}}},
{"mark": {"type": "tick", "orient": "horizontal", "size": 60, "thickness": 15, "color": "#8f8f8f"},
 "encoding": {"x": {"datum": 4, "type": "quantitative", "axis": null}, "y": {"datum": 2448.89, "type": "quantitative"}}},
{"mark": {"type": "tick", "orient": "horizontal", "size": 53, "thickness": 15, "color": "#000000"},
 "encoding": {"x": {"datum": 42.92, "type": "quantitative", "axis": null}, "y": {"datum": 2449.59, "type": "quantitative"}}},
{"mark": {"type": "text", "color": "#000000", "fontSize": 11, "align": "left", "baseline": "middle"},
 "encoding": {"x": {"datum": -0.17, "type": "quantitative", "axis": null}, "y": {"datum": 2449.59, "type": "quantitative"}, "text": {"value": "Trade: 1@2421.50"}}},
{"mark": {"type": "text", "color": "#000000", "fontSize": 11, "align": "left", "baseline": "middle"},
 "encoding": {"x": {"datum": -0.17, "type": "quantitative", "axis": null}, "y": {"datum": 2448.89, "type": "quantitative"}, "text": {"value": "DPL: 0.00P"}}},
{"mark": {"type": "text", "color": "#000000", "fontSize": 11, "align": "left", "baseline": "middle"},
 "encoding": {"x": {"datum": 16.67, "type": "quantitative", "axis": null}, "y": {"datum": 2449.59, "type": "quantitative"}, "text": {"value": "ESU7 [CB]\u00a0\u00a0Renko 2t\u00a0\u00a0#38"}}},
{"mark": {"type": "text", "color": "#ffffff", "fontSize": 11, "align": "left", "baseline": "middle"},
 "encoding": {"x": {"datum": 38.83, "type": "quantitative", "axis": null}, "y": {"datum": 2449.59, "type": "quantitative"}, "text": {"value": "C: 2443.00"}}},
{"mark": {"type": "text", "color": "#000000", "fontSize": 11, "align": "left", "baseline": "middle"},
 "encoding": {"x": {"datum": 47.67, "type": "quantitative", "axis": null}, "y": {"datum": 2449.59, "type": "quantitative"}, "text": {"value": "H: 2443.25 L: 2442.50 O: 2443.00\u00a0\u00a0VbP - 2017-05-18\u00a0\u00a008:30:00 to End"}}},
{"mark": {"type": "text", "color": "#e6e600", "fontSize": 11, "align": "left", "baseline": "middle"},
 "encoding": {"x": {"datum": 106.83, "type": "quantitative", "axis": null}, "y": {"datum": 2449.59, "type": "quantitative"}, "text": {"value": "Point of Control: 2412.25"}}},
{"mark": {"type": "text", "color": "#0000ff", "fontSize": 11, "align": "left", "baseline": "middle"},
 "encoding": {"x": {"datum": 130.17, "type": "quantitative", "axis": null}, "y": {"datum": 2449.59, "type": "quantitative"}, "text": {"value": "Value Area High Value: 2431.00"}}},
{"mark": {"type": "text", "color": "#ff8000", "fontSize": 11, "align": "left", "baseline": "middle"},
 "encoding": {"x": {"datum": 157.67, "type": "quantitative", "axis": null}, "y": {"datum": 2449.59, "type": "quantitative"}, "text": {"value": "Value Area Low Value: 2374.75"}}},
{"mark": {"type": "text", "color": "#000000", "fontSize": 11, "align": "left", "baseline": "middle"},
 "encoding": {"x": {"datum": 185.17, "type": "quantitative", "axis": null}, "y": {"datum": 2449.59, "type": "quantitative"}, "text": {"value": "(Volume Profiles, 0, 1, Fr"}}},
{"data": {"name": "tags"}, "mark": {"type": "tick", "orient": "horizontal", "size": 46, "thickness": 13},
 "encoding": {
  "x": {"datum": 210.3, "type": "quantitative", "axis": null},
  "y": {"field": "p", "type": "quantitative"},
  "color": {"field": "g", "type": "nominal", "legend": null, "scale": {"domain": ["L","G","C","B","T","k","c","o","b","r","R"], "range": ["#c8c8ff","#e4e4e4","#b4ffff","#8c8cf0","#e9c49f","#000000","#44f4f4","#f07800","#0000ff","#c00000","#ff0000"]}}}},
{"data": {"name": "tags"}, "mark": {"type": "text", "color": "#ffffff", "fontSize": 11.5, "align": "center", "baseline": "middle"},
 "encoding": {
  "x": {"datum": 210.3, "type": "quantitative", "axis": null},
  "y": {"field": "p", "type": "quantitative"},
  "text": {"field": "t"}}}
]
}
]
},
{
"width": 1243,
"height": 114,
"layer": [
{"mark": {"type": "rule", "color": "#000000", "strokeDash": [1, 2]},
 "encoding": {
  "x": {"datum": -1, "type": "quantitative", "scale": {"domain": [-1, 206.17], "nice": false, "zero": false},
        "axis": {"orient": "bottom", "values": [1.2,9,18,27,36,44,52,61,70,79,88,96,111,117,125,133,141,149,157,165,174,183,192,199],
                 "labelExpr": "['41:47','11:13:58','11:29:23','11:57:47','12:27:13','12:42','13:14:29','13:31:33','13:51:37','14:10:41','14:31','14:44:59','6-9','8:30:47','8:39:12','8:51:03','8:58:54','9:10:15','9:28:26','10:00:58','11:07:18','12:39:24','14:11:30','6-12'][indexof([1.2,9,18,27,36,44,52,61,70,79,88,96,111,117,125,133,141,149,157,165,174,183,192,199], datum.value)]",
                 "title": null, "grid": false, "domainColor": "#000000", "tickColor": "#000000", "tickSize": 4, "labelColor": "#000000", "labelFontSize": 11.5, "labelPadding": 1, "labelOverlap": false, "labelFlush": false, "labelFont": "Liberation Sans", "zindex": 0}},
  "x2": {"datum": 206.17},
  "y": {"datum": 0, "type": "quantitative", "scale": {"domain": [-591, 13748], "nice": false, "zero": false},
        "axis": {"orient": "right", "values": [0, 4000, 8000], "format": "d", "title": null, "grid": false, "domainColor": "#000000", "tickColor": "#000000", "tickSize": 4, "labelColor": "#000000", "labelFontSize": 11.5, "labelPadding": 2, "labelFont": "Liberation Sans", "zindex": 0}}}},
{"mark": {"type": "rule", "color": "#000000", "strokeWidth": 1},
 "encoding": {"x": {"datum": -0.92, "type": "quantitative"}}},
{"mark": {"type": "rule", "color": "#b4b4b4", "strokeDash": [1, 2]},
 "encoding": {"x": {"datum": 111, "type": "quantitative"}}},
{"mark": {"type": "rule", "color": "#b4b4b4", "strokeDash": [1, 2]},
 "encoding": {"x": {"datum": 199, "type": "quantitative"}}},
{"data": {"name": "delta"}, "transform": [{"filter": "isValid(datum.h)"}], "mark": {"type": "rule", "color": "#000000", "strokeWidth": 1},
 "encoding": {
  "x": {"field": "k", "type": "quantitative"},
  "y": {"field": "l", "type": "quantitative"},
  "y2": {"field": "h"}}},
{"data": {"name": "delta"}, "mark": {"type": "tick", "orient": "horizontal", "size": 5, "thickness": 1.5, "color": "#000000"},
 "encoding": {
  "x": {"field": "k", "type": "quantitative"},
  "y": {"field": "c", "type": "quantitative"}}},
{"data": {"name": "delta"}, "mark": {"type": "bar", "size": 4, "stroke": "#000000", "strokeWidth": 1},
 "encoding": {
  "x": {"field": "k", "type": "quantitative"},
  "y": {"field": "o", "type": "quantitative"},
  "y2": {"field": "c"},
  "fill": {"condition": {"test": "datum.c > datum.o", "value": "#00dd00"}, "value": "#dd0000"}}},
{"mark": {"type": "tick", "orient": "horizontal", "size": 32, "thickness": 13, "color": "#000000"},
 "encoding": {"x": {"datum": 209.58, "type": "quantitative"}, "y": {"datum": 11150, "type": "quantitative"}}},
{"mark": {"type": "tick", "orient": "horizontal", "size": 32, "thickness": 13, "color": "#ff0000"},
 "encoding": {"x": {"datum": 209.58, "type": "quantitative"}, "y": {"datum": 11465, "type": "quantitative"}}},
{"mark": {"type": "text", "color": "#ffffff", "fontSize": 11.5, "align": "center", "baseline": "middle"},
 "encoding": {"x": {"datum": 209.58, "type": "quantitative"}, "y": {"datum": 11465, "type": "quantitative"}, "text": {"value": "11465"}}},
{"mark": {"type": "tick", "orient": "horizontal", "size": 21, "thickness": 17, "color": "#00c000"},
 "encoding": {"x": {"datum": 212.33, "type": "quantitative"}, "y": {"datum": -2038, "type": "quantitative"}}},
{"mark": {"type": "text", "color": "#000000", "fontSize": 11.5, "align": "center", "baseline": "middle"},
 "encoding": {"x": {"datum": 212.33, "type": "quantitative"}, "y": {"datum": -2038, "type": "quantitative"}, "text": {"value": "5 L"}}}
]
}
]
}
